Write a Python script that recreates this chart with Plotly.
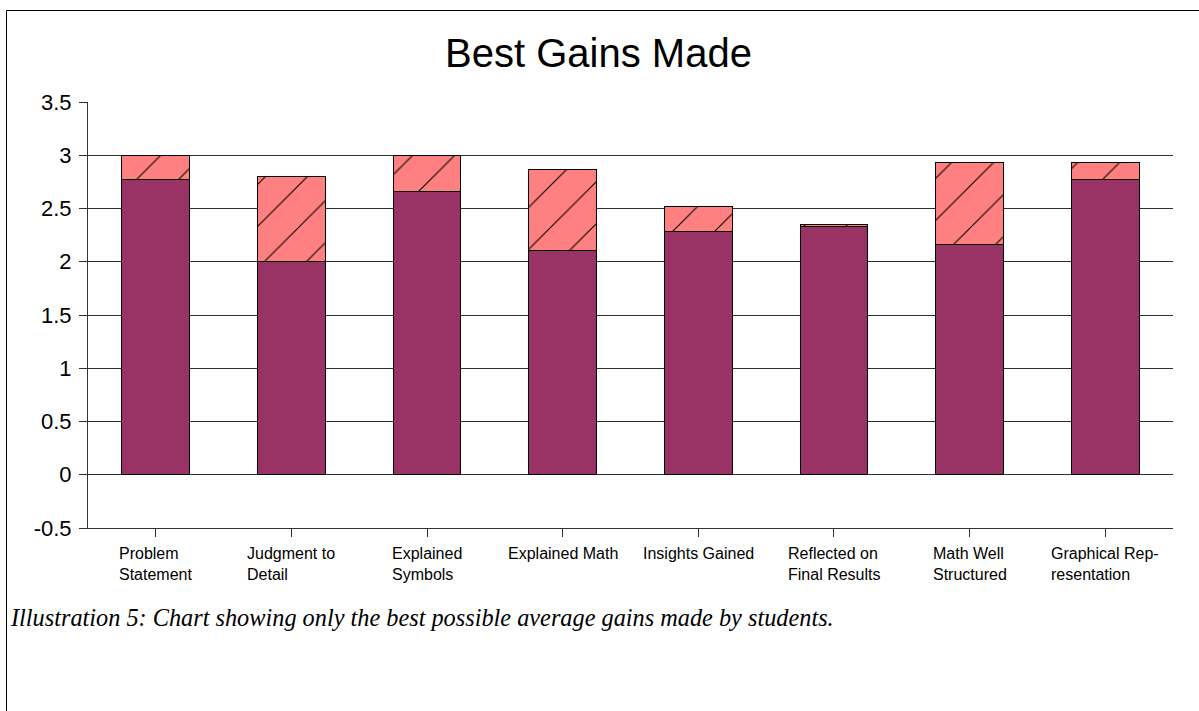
import plotly.graph_objects as go

categories = ["Problem<br>Statement", "Judgment to<br>Detail", "Explained<br>Symbols",
              "Explained Math", "Insights Gained", "Reflected on<br>Final Results",
              "Math Well<br>Structured", "Graphical Rep-<br>resentation"]
base_scores = [2.77, 2.00, 2.66, 2.11, 2.28, 2.33, 2.16, 2.77]
best_gains = [0.23, 0.80, 0.34, 0.76, 0.24, 0.02, 0.77, 0.16]
y_ticks = [-0.5, 0, 0.5, 1, 1.5, 2, 2.5, 3, 3.5]
y_tick_labels = ["-0.5", "0", "0.5", "1", "1.5", "2", "2.5", "3", "3.5"]

W, H = 1199, 711
L, R, T, B = 88, 1173, 102, 528

def px_x(p):
    return (p - L) / (R - L)

def px_y(p):
    return (B - p) / (B - T)

xs = list(range(len(categories)))

fig = go.Figure()
fig.add_trace(go.Bar(
    x=xs, y=base_scores, width=0.5,
    marker=dict(color="#993366", line=dict(color="black", width=1)),
    showlegend=False, hoverinfo="y"))
fig.add_trace(go.Bar(
    x=xs, y=best_gains, width=0.5,
    marker=dict(color="#FF8080", line=dict(color="black", width=1),
                pattern=dict(shape="/", size=29.7, solidity=0.035,
                             fgcolor="black", bgcolor="#FF8080", fillmode="replace")),
    showlegend=False, hoverinfo="y"))

for i, lab in enumerate(categories):
    fig.add_annotation(x=i, xref="x", y=px_y(543), yref="paper", yanchor="top",
                       text=lab, showarrow=False, align="left",
                       font=dict(family="Liberation Sans", size=16, color="black"))

fig.add_annotation(x=px_x(8), xref="paper", y=px_y(617), yref="paper",
                   xanchor="left", yanchor="middle", showarrow=False,
                   text="<i>Illustration 5: Chart showing only the best possible average gains made by students.</i>",
                   font=dict(family="Liberation Serif", size=24.3, color="black"))

# outer frame
fig.add_shape(type="rect", xref="paper", yref="paper",
              x0=px_x(6.5), x1=px_x(1210), y0=px_y(10.5), y1=px_y(720),
              line=dict(color="black", width=1), fillcolor="rgba(0,0,0,0)")

fig.update_layout(
    width=W, height=H, barmode="stack", bargap=0.5,
    paper_bgcolor="white", plot_bgcolor="white",
    margin=dict(l=L, r=W - R, t=T, b=H - B, pad=0),
    title=dict(text="Best Gains Made", x=(598.5) / W, xanchor="center",
               y=1 - 53 / H, yanchor="middle",
               font=dict(family="Liberation Sans", size=40, color="black")),
    xaxis=dict(range=[-0.5, 7.5], tickvals=xs, ticktext=[""] * len(xs),
               showgrid=False, zeroline=False, showline=True, linecolor="#333333",
               linewidth=1, ticks="outside", ticklen=8, tickcolor="#333333"),
    yaxis=dict(range=[-0.5, 3.5], tickvals=y_ticks, ticktext=y_tick_labels,
               showgrid=True, gridcolor="#303030", gridwidth=1, zeroline=False,
               showline=True, linecolor="#333333", linewidth=1,
               ticks="outside", ticklen=8, tickcolor="#333333",
               ticklabelstandoff=3,
               tickfont=dict(family="Liberation Sans", size=22, color="black")),
)

fig.write_html("out.html", config={"displayModeBar": False},
               post_script="document.body.style.margin='0';document.body.style.overflow='hidden';")
